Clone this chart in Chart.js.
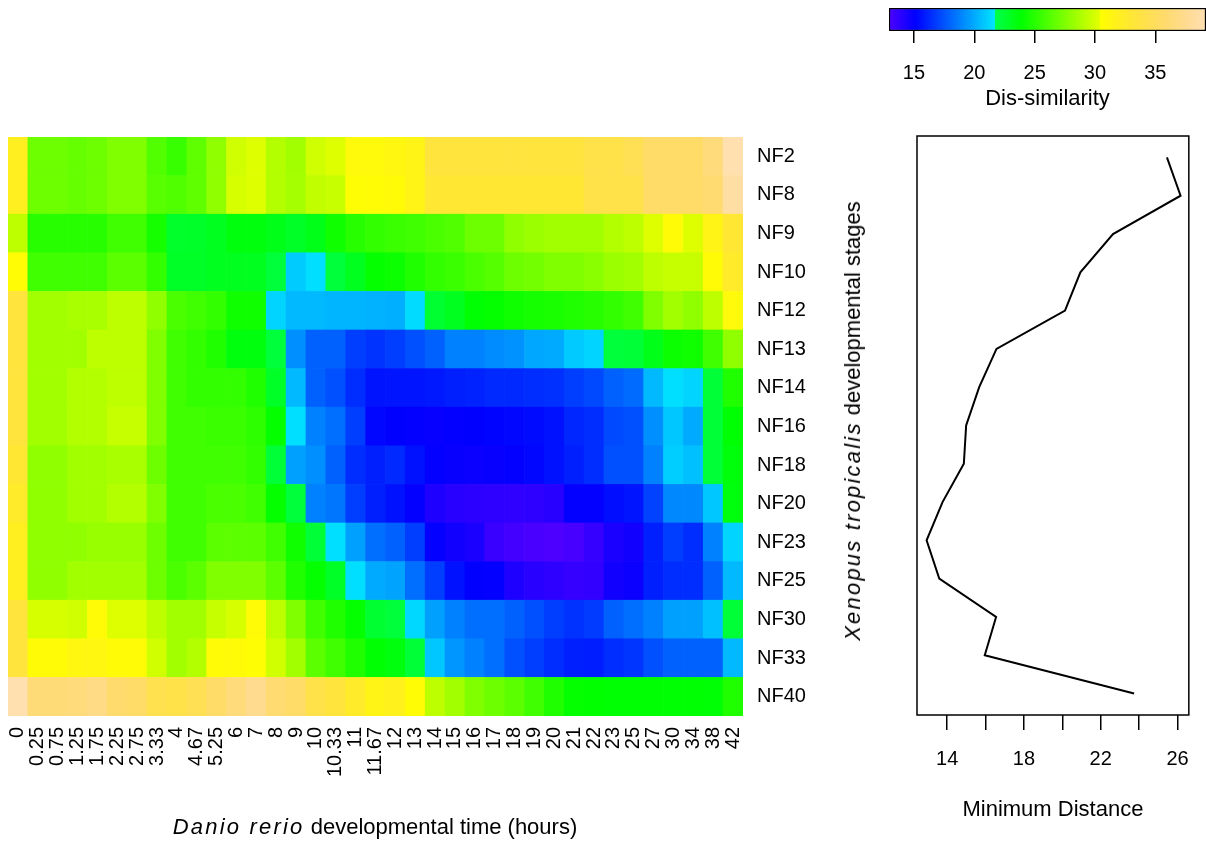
<!DOCTYPE html>
<html>
<head>
<meta charset="utf-8">
<script src="https://cdn.jsdelivr.net/npm/chart.js"></script>
<style>
  html, body { margin: 0; padding: 0; background: #fff; overflow: hidden; width: 1206px; height: 843px; }
  canvas { position: absolute; }
  .lbl { position: absolute; font-family: "Liberation Sans", Arial, sans-serif; color: #000; white-space: nowrap; font-size: 22px; }
  .lbl i { letter-spacing: 2.2px; }
</style>
</head>
<body>
<canvas id="heat" width="830" height="843" style="left:0;top:0"></canvas>
<canvas id="line" width="376" height="843" style="left:830px;top:0"></canvas>
<canvas id="bar" width="360" height="130" style="left:860px;top:0"></canvas>
<div class="lbl" style="left:375px;top:827px;transform:translate(-50%,-50%)"><i>Danio rerio</i> developmental time (hours)</div>
<div class="lbl" style="left:853px;top:421px;transform:translate(-50%,-50%) rotate(-90deg)"><i>Xenopus tropicalis</i> developmental stages</div>
<script>
// zebrafish time points (columns) and frog stages (rows, top to bottom)
const hours = ["0","0.25","0.75","1.25","1.75","2.25","2.75","3.33","4","4.67","5.25","6","7","8","9","10","10.33","11","11.67","12","13","14","15","16","17","18","19","20","21","22","23","25","27","30","34","38","42"]
const stages = ["NF2","NF8","NF9","NF10","NF12","NF13","NF14","NF16","NF18","NF20","NF23","NF25","NF30","NF33","NF40"]

// dis-similarity per stage, one value per time point
const nf2  = [32,27,27,26.8,27,27.5,27.5,26.2,25.45,26.6,28,29.8,30.2,29,28.5,29.8,30.2,31,31,31.2,31.5,33.5,33.5,33.5,33.5,33.5,33.5,33.5,33.5,34,34,34.5,35.5,35.5,35.5,36.5,39]
const nf8  = [32,27,27,26.8,27,27.5,27.5,26.4,26.16,26.6,28,30,30.2,29,28.6,29.4,29.6,30.6,30.7,30.8,31.5,33,33,33,33,33,33,33,33,34,34,34,35.5,35.5,35.5,36,38.5]
const nf9  = [29.3,25,25,25,25,25.7,25.7,24.5,22.64,22.7,23,23.5,23.5,23.2,22.8,23.2,24.3,25,25.3,25.5,25.7,26,26.2,27,27,28,28.3,28.5,28.5,28.5,29,29.3,30.2,30.8,30.2,31.5,33]
const nf10 = [30.7,25.7,25.7,25.7,25.7,26.5,26.5,25.3,22.8,22.8,23,23,23,22.2,20.94,21.5,22.2,23,24,24.2,24.8,25.3,25.5,26,26.3,27,27.2,27.5,27.5,27.8,28.3,28.5,29.3,29.5,29.6,30.8,32.5]
const nf12 = [33.5,28.5,28.5,28.7,28.7,29.3,29.3,28,26,25.7,25.3,24.3,24.3,21.2,20.4,20.4,20.3,20.3,20.2,20.14,21.4,22.5,23,23.8,24,24.3,24.5,24.6,24.8,25,25.3,25.7,27.5,28.5,28,29.3,31]
const nf13 = [33.5,28.5,28.5,28.5,29.3,29.3,29.3,27.5,25.7,25.3,24.8,23.5,23.5,22.2,19.2,17.9,17.9,16.9,16.57,16.9,17.4,17.9,18.8,18.8,19.1,19.3,19.9,20,20.9,21.2,22.2,22.3,23.2,24.2,24.3,25.7,28]
const nf14 = [33.5,28.5,28.5,29,29,29.3,29.3,27.5,25.7,25.3,25.3,25.3,24.8,22.8,20.4,17.9,17.4,16.4,15.67,15.7,15.7,15.8,16,16.1,16.3,16.3,16.4,16.5,16.9,17.2,17.9,18.2,20.4,21.5,21.2,22.3,24.8]
const nf16 = [33.5,28.5,28.5,29,29,29.5,29.5,27.5,25.7,25.7,25.5,25.5,25.2,24,21.5,18.8,18.3,16.9,15.3,15.1,15,14.99,15,15.1,15.2,15.3,15.4,15.6,16.2,16.4,17.2,17.4,19.2,20.8,20,22.3,23.8]
const nf18 = [33,28,28,28.5,28.5,28.7,28.7,27,25.7,25.7,25.7,25.7,25.3,22.3,19.7,19.2,17.9,16.4,16,16.3,15.6,15,14.9,14.87,14.9,15,15.3,15.6,16,16.4,17.4,17.4,18.8,21,20.6,22.3,23.6]
const nf20 = [32.5,28,28,28.5,28.5,29,29,27.5,25.7,25.7,26,26,25.7,24,22.2,18.8,18.5,16.9,16,15.6,15,14.3,14,13.9,13.8,13.76,13.8,14,15,15,15.5,15.7,17,19,19,20.8,23.5]
const nf23 = [32,28,28,28,28.2,28.2,28.2,27,25.7,25.7,26.5,26.5,26.5,25.7,24.3,22.3,21.5,19.7,18.3,17.9,16.9,15,14.6,14.4,13.5,13.2,13,12.93,13.1,13.6,14.4,14.6,16,16.9,16.4,18.8,21.2]
const nf25 = [32,28,28,28.5,28.5,28.5,28.5,27,26,26.5,27.5,27.5,27.5,26.5,24.8,24,22.8,21.5,20,19.8,18.3,16.9,15.6,15.1,15,14.3,14,13.8,13.59,13.7,14.6,14.8,16,16.4,16.4,17.9,20.4]
const nf30 = [33.5,30,30,29.8,30.8,30.2,30.2,29.3,28.5,28.5,29.5,30,30.8,29.3,27.5,25.7,24.8,24,22.5,22.2,21.3,19.7,18.8,18.3,18.3,17.9,17.4,16.9,16.55,16.8,17.9,18.3,18.8,19.7,19.7,20.6,22.3]
const nf33 = [33.5,30.8,30.8,31.2,31.2,30.8,30.8,29.8,28.5,29,30.8,30.8,30.6,29.8,28.5,26.5,25.7,24.8,23.8,23.5,22.3,20.8,19.4,18.8,18.3,17.4,16.9,16.4,16,15.96,16.4,16.6,17.4,17.9,17.9,17.9,20.4]
const nf40 = [39,36.3,36.3,36.5,37,35.8,35.5,34.3,34,34.5,35.5,36.5,37.5,36,35.5,34,33.5,32.5,31.5,31.8,30.7,29.3,28.5,27.5,27,26.5,25.7,24.8,24,23.9,23.8,23.8,23.8,23.8,23.8,23.74,24.8]

// minimum distance per stage (right panel)
const minDist = [25.45,26.16,22.64,20.94,20.14,16.57,15.67,14.99,14.87,13.76,12.93,13.59,16.55,15.96,23.74]

const colorMin = 12.93, colorMax = 39.2
const colorTicks = [15,20,25,30,35]
const distTicks = [14,16,18,20,22,24,26]

const grid = [nf2,nf8,nf9,nf10,nf12,nf13,nf14,nf16,nf18,nf20,nf23,nf25,nf30,nf33,nf40]

Chart.defaults.font.family = '"Liberation Sans", Arial, sans-serif'
Chart.defaults.color = '#000'

const hsv = (h, s, v) => {
  const f = n => {
    const k = (n + h / 60) % 6
    return Math.round(255 * (v - v * s * Math.max(0, Math.min(k, 4 - k, 1))))
  }
  return `rgb(${f(5)},${f(3)},${f(1)})`
}

// R's topo.colors as a continuous ramp
const topo = val => {
  let t = (val - colorMin) / (colorMax - colorMin)
  t = Math.max(0, Math.min(1, t))
  if (t < 1/3) return hsv(258 - 216 * t, 1, 1)
  if (t < 2/3) return hsv(138 - 216 * (t - 1/3), 1, 1)
  const f = (t - 2/3) * 3
  return hsv(60 - 24 * f, 1 - 0.7 * f, 1)
}

// heatmap: one stacked bar dataset per stage, bottom row first
const heatSets = stages.map((s, r) => ({
  label: s,
  data: hours.map(() => 1),
  backgroundColor: grid[r].map(topo),
  borderWidth: 0,
  barPercentage: 1,
  categoryPercentage: 1
})).reverse()

new Chart(document.getElementById('heat'), {
  type: 'bar',
  data: { labels: hours, datasets: heatSets },
  options: {
    responsive: false,
    animation: false,
    layout: { padding: { left: 8, top: 137, right: 0, bottom: 0 } },
    plugins: { legend: { display: false }, tooltip: { enabled: false } },
    scales: {
      x: {
        stacked: true,
        grid: { display: false, drawTicks: false },
        border: { display: false },
        ticks: { autoSkip: false, minRotation: 90, maxRotation: 90, padding: 11, font: { size: 20 } },
        afterFit: s => { s.height = 127 }
      },
      y: {
        stacked: true,
        position: 'right',
        min: 0, max: 15,
        grid: { display: false, drawTicks: false },
        border: { display: false },
        afterBuildTicks: s => { s.ticks = stages.map((_, i) => ({ value: i + 0.5 })) },
        ticks: { callback: v => stages[14 - Math.floor(v)], padding: 14, font: { size: 20 } },
        afterFit: s => { s.width = 87 }
      }
    }
  }
})

const frame = {
  id: 'frame',
  afterDraw(chart) {
    const { ctx, chartArea: a } = chart
    ctx.save()
    ctx.strokeStyle = '#000'
    ctx.lineWidth = 1.5
    ctx.strokeRect(a.left, a.top, a.right - a.left, a.bottom - a.top)
    ctx.restore()
  }
}

new Chart(document.getElementById('line'), {
  type: 'line',
  data: {
    datasets: [{
      data: minDist.map((v, i) => ({ x: v, y: i + 1 })),
      borderColor: '#000',
      borderWidth: 2,
      pointRadius: 0,
      tension: 0,
      fill: false
    }]
  },
  options: {
    responsive: false,
    animation: false,
    layout: { padding: { left: 87, right: 9, top: 136, bottom: 0 } },
    plugins: { legend: { display: false }, tooltip: { enabled: false } },
    scales: {
      x: {
        type: 'linear',
        min: 12.43, max: 26.59,
        afterBuildTicks: s => { s.ticks = distTicks.map(v => ({ value: v })) },
        grid: { drawOnChartArea: false, drawTicks: true, tickLength: 15, color: '#000', lineWidth: 1.5 },
        border: { display: false },
        ticks: { callback: v => (v % 4 === 2 ? String(v) : ''), padding: 17, font: { size: 20 } },
        title: { display: true, text: 'Minimum Distance', font: { size: 22 }, padding: { top: 0, bottom: 20 } },
        afterFit: s => { s.height = 128 }
      },
      y: { type: 'linear', reverse: true, min: 0.44, max: 15.56, display: false }
    }
  },
  plugins: [frame]
})

// colour key
const keyGradient = chart => {
  const x = chart.scales.x
  if (!x || !chart.chartArea) return '#888'
  const x0 = x.getPixelForValue(colorMin), x1 = x.getPixelForValue(colorMax)
  const g = chart.ctx.createLinearGradient(x0, 0, x1, 0)
  for (let i = 0; i <= 300; i++) {
    const t = i / 300
    g.addColorStop(t, topo(colorMin + t * (colorMax - colorMin)))
  }
  const e = 1e-4
  g.addColorStop(1/3 - e, topo(colorMin + (1/3 - 2 * e) * (colorMax - colorMin)))
  g.addColorStop(2/3 - e, topo(colorMin + (2/3 - 2 * e) * (colorMax - colorMin)))
  return g
}

new Chart(document.getElementById('bar'), {
  type: 'bar',
  data: {
    labels: [''],
    datasets: [{
      data: [[colorMin, colorMax]],
      backgroundColor: ctx => keyGradient(ctx.chart),
      borderColor: '#000',
      borderWidth: 1.5,
      borderSkipped: false,
      barPercentage: 1,
      categoryPercentage: 1
    }]
  },
  options: {
    indexAxis: 'y',
    responsive: false,
    animation: false,
    layout: { padding: { left: 29, right: 14, top: 8, bottom: 0 } },
    plugins: { legend: { display: false }, tooltip: { enabled: false } },
    scales: {
      x: {
        type: 'linear',
        min: colorMin, max: colorMax,
        afterBuildTicks: s => { s.ticks = colorTicks.map(v => ({ value: v })) },
        grid: { drawOnChartArea: false, drawTicks: true, tickLength: 12, color: '#000', lineWidth: 1.5 },
        border: { display: false },
        ticks: { padding: 18, font: { size: 20 } },
        title: { display: true, text: 'Dis-similarity', font: { size: 22 }, padding: { top: 0, bottom: 18 } },
        afterFit: s => { s.height = 99 }
      },
      y: { display: false }
    }
  }
})
</script>
</body>
</html>
